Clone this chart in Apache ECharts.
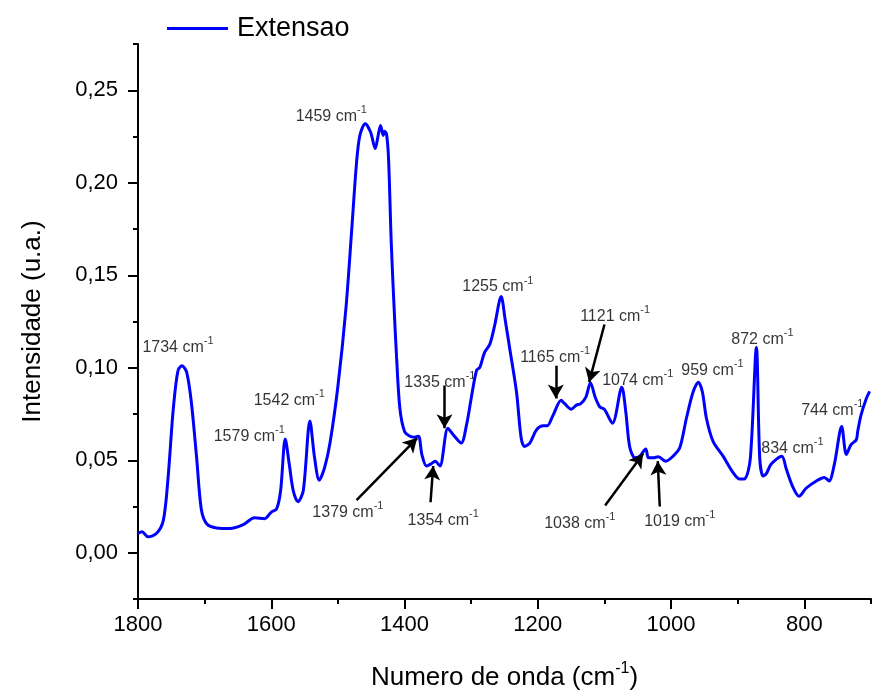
<!DOCTYPE html>
<html>
<head>
<meta charset="utf-8">
<script src="https://cdn.jsdelivr.net/npm/echarts@6/dist/echarts.min.js"></script>
<style>
  html, body { margin: 0; padding: 0; background: #fff; }
  #chart { width: 895px; height: 696px; }
</style>
</head>
<body>
<div id="chart"></div>
<script>
// FTIR spectrum (absorbance vs. wavenumber)
const wavenumber = [
  1800, 1794, 1785, 1772, 1762, 1755, 1747, 1740, 1734, 1727, 1720, 1712, 1705, 1697,
  1682, 1662, 1642, 1625, 1610, 1600, 1592, 1586, 1579, 1573, 1567, 1560, 1552, 1542,
  1535, 1528, 1520, 1512, 1500, 1488, 1479, 1472, 1467, 1459, 1451, 1444, 1440, 1436,
  1432, 1430, 1427, 1424, 1420, 1416, 1412, 1407, 1400, 1392, 1385, 1379, 1374, 1367,
  1360, 1354, 1347, 1335, 1327, 1315, 1307, 1300, 1292, 1287, 1280, 1272, 1265, 1255,
  1249, 1242, 1232, 1225, 1220, 1212, 1202, 1192, 1186, 1177, 1165, 1160, 1150, 1142,
  1136, 1128, 1121, 1114, 1107, 1100, 1088, 1074, 1068, 1062, 1054, 1047, 1038, 1034,
  1027, 1019, 1008, 997, 987, 977, 967, 959, 953, 947, 937, 922, 907, 897,
  889, 881, 872, 867, 862, 857, 850, 834, 827, 817, 808, 797, 782, 770,
  763, 755, 744, 737, 730, 722, 720, 715, 707, 702
];
const intensity = [
  0.0105, 0.0113, 0.0086, 0.0105, 0.0175, 0.0400, 0.0780, 0.0985, 0.1011, 0.0976, 0.0815, 0.0513, 0.0235, 0.0157,
  0.0134, 0.0131, 0.0152, 0.0189, 0.0184, 0.0220, 0.0237, 0.0335, 0.0615, 0.0478, 0.0335, 0.0276, 0.0335, 0.0712,
  0.0513, 0.0392, 0.0460, 0.0590, 0.0900, 0.1320, 0.1760, 0.2110, 0.2256, 0.2319, 0.2274, 0.2185, 0.2248, 0.2310,
  0.2255, 0.2278, 0.2262, 0.2130, 0.1680, 0.1350, 0.1060, 0.0780, 0.0655, 0.0630, 0.0625, 0.0630, 0.0531, 0.0469,
  0.0481, 0.0495, 0.0469, 0.0673, 0.0638, 0.0593, 0.0691, 0.0834, 0.0985, 0.1002, 0.1082, 0.1127, 0.1225, 0.1385,
  0.1260, 0.1100, 0.0869, 0.0620, 0.0575, 0.0593, 0.0664, 0.0686, 0.0686, 0.0744, 0.0824, 0.0807, 0.0776, 0.0798,
  0.0805, 0.0840, 0.0919, 0.0842, 0.0789, 0.0775, 0.0700, 0.0895, 0.0762, 0.0570, 0.0513, 0.0522, 0.0561, 0.0513,
  0.0513, 0.0519, 0.0495, 0.0522, 0.0567, 0.0727, 0.0869, 0.0922, 0.0869, 0.0727, 0.0602, 0.0522, 0.0433, 0.0398,
  0.0401, 0.0513, 0.1109, 0.0513, 0.0415, 0.0428, 0.0478, 0.0522, 0.0451, 0.0353, 0.0305, 0.0350, 0.0388, 0.0407,
  0.0388, 0.0478, 0.0682, 0.0531, 0.0584, 0.0611, 0.0655, 0.0744, 0.0834, 0.0872
];

// axis ticks
const xMajorTicks = [1800, 1600, 1400, 1200, 1000, 800];
const xMinorTicks = [1700, 1500, 1300, 1100, 900, 700];
const yMajorTicks = [0, 0.05, 0.10, 0.15, 0.20, 0.25];
const yMinorTicks = [-0.025, 0.025, 0.075, 0.125, 0.175, 0.225, 0.275];

// band labels: [wavenumber label, anchor x, anchor y]
const bandLabels = [
  ['1734', 1740, 0.1118],
  ['1579', 1633, 0.0641],
  ['1542', 1573, 0.0833],
  ['1459', 1510, 0.2367],
  ['1379', 1485, 0.0228],
  ['1354', 1342, 0.0184],
  ['1335', 1347, 0.0931],
  ['1255', 1260, 0.1447],
  ['1165', 1174, 0.1065],
  ['1121', 1084, 0.1287],
  ['1074', 1050, 0.0940],
  ['1038', 1137, 0.0168],
  ['1019', 987, 0.0179],
  ['959', 938, 0.0997],
  ['872', 863, 0.1162],
  ['834', 818, 0.0572],
  ['744', 758, 0.0780]
];

// arrows: [from x, from y, to x, to y]
const bandArrows = [
  [1472, 0.0285, 1381, 0.0620],
  [1361, 0.0273, 1357, 0.0469],
  [1340, 0.0904, 1340, 0.0673],
  [1173, 0.1011, 1173, 0.0834],
  [1100, 0.1234, 1123, 0.0922],
  [1099, 0.0255, 1042, 0.0535],
  [1017, 0.0250, 1020, 0.0495]
];

const fontFamily = 'Liberation Sans, Arial, sans-serif';
const fmtComma = v => v.toFixed(2).replace('.', ',');

const chart = echarts.init(document.getElementById('chart'), null, { renderer: 'canvas' });

const axisLineStyle = { color: '#000', width: 2 };

chart.setOption({
  animation: false,
  backgroundColor: '#fff',
  textStyle: { fontFamily: fontFamily },
  legend: {
    data: ['Extensao'],
    left: 162,
    top: 10,
    icon: 'rect',
    itemWidth: 61,
    itemHeight: 3,
    textStyle: { fontSize: 27, color: '#000', fontFamily: fontFamily, padding: [0, 0, 0, 4] }
  },
  grid: { left: 138, right: 24, top: 44, bottom: 89, containLabel: false },
  xAxis: [
    {
      type: 'value',
      inverse: true,
      min: 700,
      max: 1800,
      name: '{t|Numero de onda (cm}{s|-1}{t|)}',
      nameLocation: 'middle',
      nameGap: 62,
      nameTextStyle: {
        rich: {
          t: { fontSize: 26, color: '#000', fontFamily: fontFamily, lineHeight: 30, verticalAlign: 'bottom' },
          s: { fontSize: 16, color: '#000', fontFamily: fontFamily, lineHeight: 30, verticalAlign: 'top' }
        }
      },
      axisLine: { show: true, onZero: false, lineStyle: axisLineStyle },
      axisTick: { show: true, inside: false, length: 10, lineStyle: axisLineStyle, customValues: xMajorTicks },
      axisLabel: { show: true, margin: 15, fontSize: 22, color: '#000', fontFamily: fontFamily,
                   customValues: xMajorTicks, formatter: v => String(v) },
      splitLine: { show: false }
    },
    {
      type: 'value',
      inverse: true,
      min: 700,
      max: 1800,
      position: 'bottom',
      axisLine: { show: false, onZero: false },
      axisTick: { show: true, inside: false, length: 5, lineStyle: axisLineStyle, customValues: xMinorTicks },
      axisLabel: { show: false },
      splitLine: { show: false }
    }
  ],
  yAxis: [
    {
      type: 'value',
      min: -0.025,
      max: 0.275,
      name: 'Intensidade (u.a.)',
      nameLocation: 'middle',
      nameGap: 92,
      nameRotate: 90,
      nameTextStyle: { fontSize: 26, color: '#000', fontFamily: fontFamily },
      axisLine: { show: true, onZero: false, lineStyle: axisLineStyle },
      axisTick: { show: true, inside: false, length: 10, lineStyle: axisLineStyle, customValues: yMajorTicks },
      axisLabel: { show: true, margin: 20, fontSize: 22, color: '#000', fontFamily: fontFamily,
                   customValues: yMajorTicks, formatter: fmtComma },
      splitLine: { show: false }
    },
    {
      type: 'value',
      min: -0.025,
      max: 0.275,
      position: 'left',
      axisLine: { show: false, onZero: false },
      axisTick: { show: true, inside: false, length: 5, lineStyle: axisLineStyle, customValues: yMinorTicks },
      axisLabel: { show: false },
      splitLine: { show: false }
    }
  ],
  series: [
    {
      name: 'Extensao',
      type: 'line',
      xAxisIndex: 0,
      yAxisIndex: 0,
      data: wavenumber.map((w, i) => [w, intensity[i]]),
      showSymbol: false,
      symbol: 'none',
      smooth: 0.3,
      lineStyle: { color: '#0000ff', width: 3 },
      itemStyle: { color: '#0000ff' },
      markLine: {
        silent: true,
        symbol: ['none', 'arrow'],
        symbolSize: [12, 14],
        label: { show: false },
        lineStyle: { color: '#000', width: 2.5, type: 'solid' },
        data: bandArrows.map(a => [{ coord: [a[0], a[1]] }, { coord: [a[2], a[3]] }])
      }
    },
    {
      name: 'bands',
      type: 'scatter',
      xAxisIndex: 0,
      yAxisIndex: 0,
      symbolSize: 0,
      silent: true,
      data: bandLabels.map(b => ({ value: [b[1], b[2]], band: b[0] })),
      label: {
        show: true,
        position: 'inside',
        color: '#000',
        textBorderWidth: 0,
        formatter: p => '{n|' + p.data.band + ' cm}{s|-1}',
        rich: {
          n: { fontSize: 16, color: '#000', fontFamily: fontFamily, lineHeight: 20, verticalAlign: 'bottom', textBorderWidth: 0 },
          s: { fontSize: 11, color: '#000', fontFamily: fontFamily, lineHeight: 20, verticalAlign: 'top', textBorderWidth: 0 }
        }
      }
    }
  ]
});
</script>
</body>
</html>
